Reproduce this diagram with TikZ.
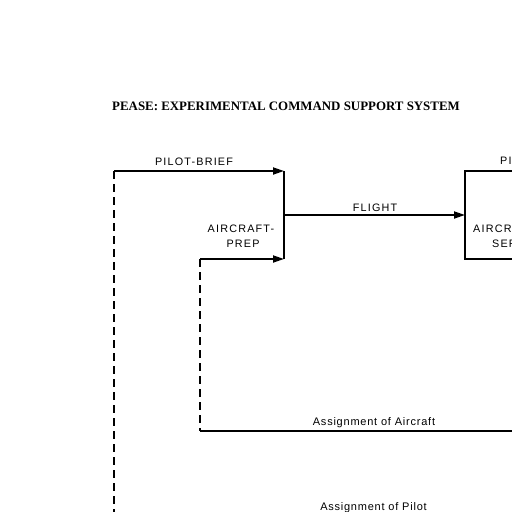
\documentclass[tikz,border=0pt]{standalone}
\usepackage{fontspec}
\setmainfont{Liberation Serif}
\newfontfamily\capfont[LetterSpace=11]{Liberation Sans}
\newfontfamily\lowfont[LetterSpace=7]{Liberation Sans}
\usetikzlibrary{arrows.meta}
\begin{document}
\begin{tikzpicture}[x=1pt,y=-1pt,
  flow/.style={line width=1.8pt},
  arr/.style={flow,-{Triangle[length=11pt,width=7pt]}},
  dsh/.style={line width=1.2pt,dash pattern=on 8pt off 5pt},
  lbl/.style={font=\capfont\fontsize{10.8}{12}\selectfont,inner sep=0pt,anchor=base},
  lbllow/.style={font=\lowfont\fontsize{11}{12}\selectfont,inner sep=0pt,anchor=base},
]
\useasboundingbox (0,0) rectangle (512,512);
\node[font=\bfseries\fontsize{12.9}{14}\selectfont,anchor=base west,inner sep=0pt] (title) at (112,110) {PEASE: EXPERIMENTAL COMMAND SUPPORT SYSTEM};

% coordinates
\coordinate (pbstart) at (114,171);
\coordinate (leftbot) at (114,512);
\coordinate (b1top) at (284,171);
\coordinate (b1bot) at (284,259);
\coordinate (b1mid) at (284,215);
\coordinate (apstart) at (200,259);
\coordinate (aacorner) at (200,431);
\coordinate (aaright) at (512,431);
\coordinate (b2tl) at (465,171);
\coordinate (b2bl) at (465,259);
\coordinate (b2mid) at (465,215);
\coordinate (b2tr) at (512,171);
\coordinate (b2br) at (512,259);

% connectors
\draw[dsh] (pbstart) -- (leftbot);
\draw[arr] (pbstart) -- (b1top);
\draw[flow] (b1top) -- (b1bot);
\draw[arr] (apstart) -- (b1bot);
\draw[dsh] (apstart) -- (aacorner);
\draw[flow] (aacorner) -- (aaright);
\draw[arr] (b1mid) -- (b2mid);
\draw[flow] (b2tr) -- (b2tl) -- (b2bl) -- (b2br);

% labels
\node[lbl] (lpb) at (194,165) {PILOT-BRIEF};
\node[lbl] (lfl) at (375,211) {FLIGHT};
\node[lbl] (lap1) at (241,232) {AIRCRAFT-};
\node[lbl] (lap2) at (243,247) {PREP};
\node[lbl,anchor=base west] (lpi) at (500,164) {PI};
\node[lbl,anchor=base west] (las1) at (473,232) {AIRCR};
\node[lbl,anchor=base west] (las2) at (492,247) {SER};
\node[lbllow] (laa) at (374,425) {Assignment of Aircraft};
\node[lbllow] (lap) at (373.5,510) {Assignment of Pilot};
\end{tikzpicture}
\end{document}
